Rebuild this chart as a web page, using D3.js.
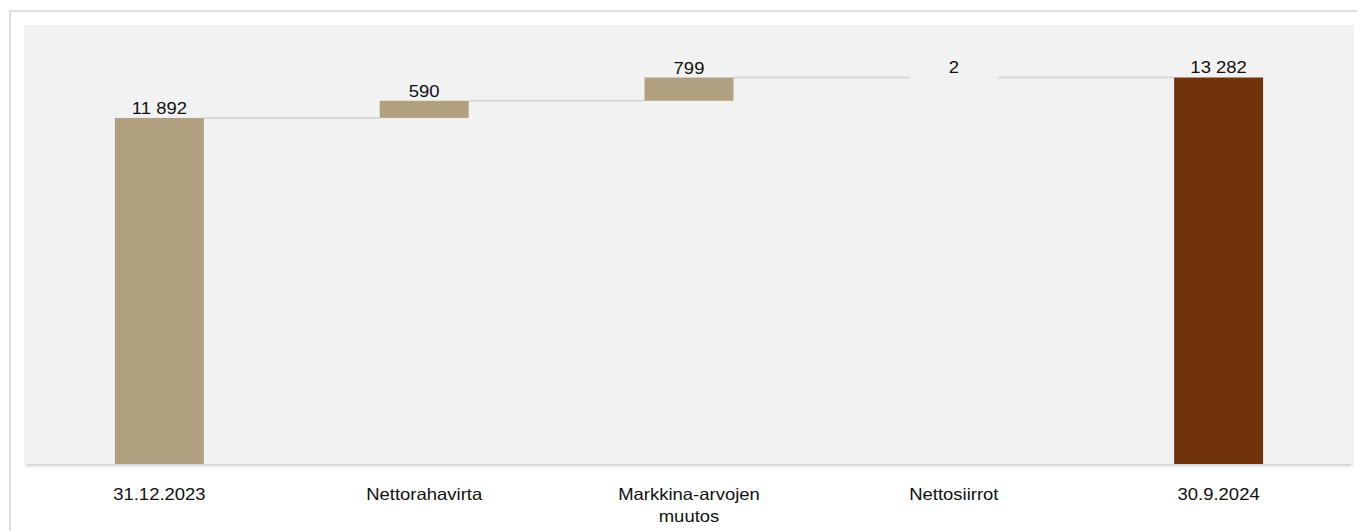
<!DOCTYPE html>
<html>
<head>
<meta charset="utf-8">
<script src="https://cdn.jsdelivr.net/npm/d3@7"></script>
<style>
  html, body { margin: 0; padding: 0; background: #ffffff; }
  svg { display: block; }
  text { font-family: "Liberation Sans", Arial, Helvetica, sans-serif; fill: #111111; }
</style>
</head>
<body>
<svg id="chart" width="1357" height="531"></svg>
<script>
// ---- data ----
const categories = ["31.12.2023", "Nettorahavirta", "Markkina-arvojen muutos", "Nettosiirrot", "30.9.2024"];
const values = [11892, 590, 799, 2, 13282];
const kinds = ["total", "delta", "delta", "delta", "total"];
const yDomain = [0, 15000];

// ---- layout ----
const W = 1357, H = 531;
const plot = { x0: 24, y0: 25, x1: 1354, y1: 467.7 };
const svg = d3.select("#chart");

svg.append("rect").attr("x", 10).attr("y", 11).attr("width", 1400).attr("height", 600)
  .attr("fill", "none").attr("stroke", "#dedede").attr("stroke-width", 2);
svg.append("rect").attr("x", plot.x0).attr("y", plot.y0)
  .attr("width", plot.x1 - plot.x0).attr("height", plot.y1 - plot.y0).attr("fill", "#f2f2f2");

const x = d3.scaleBand().domain(categories).range([27, 1351]).paddingInner(0.664).paddingOuter(0.332);
const y = d3.scaleLinear().domain(yDomain).range([464, 27.5]);

const fmt = d3.formatLocale({ decimal: ",", thousands: " ", grouping: [3], currency: ["", ""] }).format(",d");

let cum = 0;
const bars = categories.map((c, i) => {
  let start, end;
  if (kinds[i] === "total") { start = 0; end = values[i]; cum = values[i]; }
  else { start = cum; end = cum + values[i]; cum = end; }
  return { cat: c, start, end, value: values[i], kind: kinds[i], last: i === categories.length - 1 };
});

// axis line
svg.append("line").attr("x1", 27).attr("x2", 1351).attr("y1", 465).attr("y2", 465)
  .attr("stroke", "#d9d9d9").attr("stroke-width", 2);

// connectors
const conn = d3.pairs(bars);
svg.append("g").selectAll("line").data(conn).join("line")
  .attr("x1", d => x(d[0].cat) + x.bandwidth())
  .attr("x2", d => x(d[1].cat))
  .attr("y1", d => y(d[0].end)).attr("y2", d => y(d[0].end))
  .attr("stroke", "#d9d9d9").attr("stroke-width", 2);

// bars
svg.append("g").selectAll("rect").data(bars).join("rect")
  .attr("x", d => x(d.cat))
  .attr("width", x.bandwidth())
  .attr("y", d => y(Math.max(d.start, d.end)))
  .attr("height", d => Math.abs(y(d.start) - y(d.end)))
  .attr("fill", d => d.last ? "#70330a" : "#b2a181");

// value labels
const SX = 1.12;
svg.append("g").selectAll("text").data(bars).join("text")
  .attr("transform", d => `translate(${x(d.cat) + x.bandwidth() / 2},${y(Math.max(d.start, d.end)) - 4}) scale(${SX},1)`)
  .attr("text-anchor", "middle")
  .style("font-size", "16.5px")
  .text(d => fmt(d.value));

// category axis
const axis = d3.axisBottom(x).tickSize(0).tickPadding(0);
const gA = svg.append("g").attr("transform", "translate(0,465)").call(axis);
gA.select(".domain").remove();
gA.selectAll(".tick text").each(function (d) {
  const t = d3.select(this);
  t.text(null).attr("y", 0).attr("dy", null)
    .attr("transform", `translate(0,35) scale(${SX},1)`)
    .style("font-size", "16.5px").style("font-family", '"Liberation Sans", Arial, sans-serif')
    .attr("fill", "#111111");
  const words = d.split(" ");
  let lines = [], cur = [];
  const probe = t.append("tspan");
  words.forEach(w => {
    const test = cur.concat([w]).join(" ");
    probe.text(test);
    if (cur.length && probe.node().getComputedTextLength() > 150) { lines.push(cur.join(" ")); cur = [w]; }
    else cur.push(w);
  });
  lines.push(cur.join(" "));
  probe.remove();
  lines.forEach((ln, k) => {
    t.append("tspan").attr("x", 0).attr("y", k * 22.5).text(ln);
  });
});
</script>
</body>
</html>
